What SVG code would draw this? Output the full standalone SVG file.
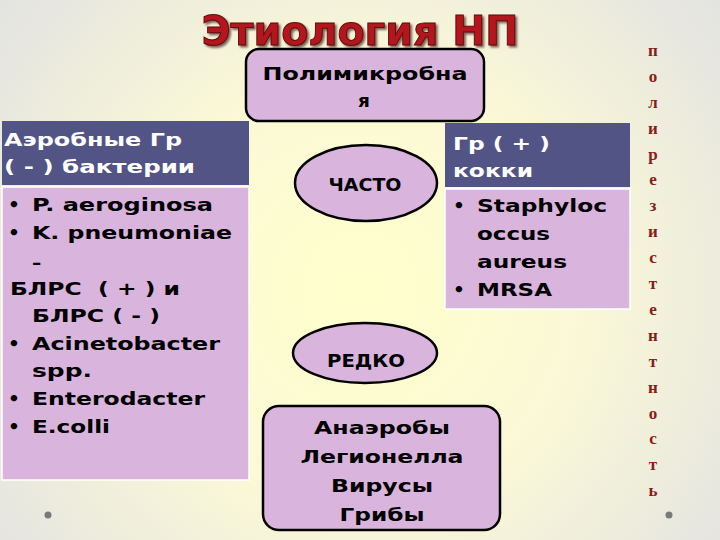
<svg xmlns="http://www.w3.org/2000/svg" width="720" height="540" viewBox="0 0 720 540">
<defs>
<radialGradient id="bg" cx="360" cy="290" r="470" gradientUnits="userSpaceOnUse">
<stop offset="0" stop-color="#FFFFCC"/>
<stop offset="0.45" stop-color="#FBF9D6"/>
<stop offset="1" stop-color="#E2E2E2"/>
</radialGradient>
<filter id="shadow" x="-5%" y="-20%" width="115%" height="150%">
<feDropShadow dx="2" dy="2" stdDeviation="0.8" flood-color="#2a0505" flood-opacity="0.6"/>
</filter>
<style>
.t{font-family:"DejaVu Sans","Noto Sans",sans-serif;font-weight:bold}
.hd{fill:#525485}
.bd{fill:#D9B4DC;stroke:#FFFFFF;stroke-width:1.5}
.shape{fill:#D9B4DC;stroke:#000;stroke-width:2.5}
.wt{fill:#FFFFFF;font-size:18.5px}
.bk{fill:#000000;font-size:18.5px}
.sm{fill:#000000;font-size:17px}
.vt{font-family:"Liberation Serif","DejaVu Serif",serif;font-weight:bold;font-size:17px;fill:#8B1A1A;text-anchor:middle}
.dot{fill:#7A7A7A}
</style>
</defs>
<rect x="0" y="0" width="720" height="540" fill="url(#bg)"/>

<g id="title">
<text class="t" x="360" y="45" font-size="41" fill="#B3161C" stroke="#5E0A0A" stroke-width="1" text-anchor="middle" textLength="317" lengthAdjust="spacingAndGlyphs" filter="url(#shadow)">Этиология НП</text>
</g>

<g id="polymicrobial">
<rect class="shape" x="246" y="49" width="238" height="72" rx="13"/>
<text class="t bk" x="365" y="80" text-anchor="middle" textLength="205" lengthAdjust="spacingAndGlyphs">Полимикробна</text>
<text class="t bk" x="364" y="107" text-anchor="middle">я</text>
</g>

<g id="aerobic">
<rect class="hd" x="2" y="121" width="247" height="64"/>
<text class="t wt" x="4" y="146" textLength="178" lengthAdjust="spacingAndGlyphs">Аэробные Гр</text>
<text class="t wt" x="4" y="173" textLength="191" lengthAdjust="spacingAndGlyphs">( - ) бактерии</text>
<rect class="bd" x="2" y="187" width="247" height="293"/>
<g class="t bk">
<text x="8" y="211">•</text><text x="32" y="211" textLength="181" lengthAdjust="spacingAndGlyphs">P. aeroginosa</text>
<text x="8" y="239">•</text><text x="32" y="239" textLength="200" lengthAdjust="spacingAndGlyphs">K. pneumoniae</text>
<text x="32" y="269">–</text>
<text x="10" y="295" textLength="170" lengthAdjust="spacingAndGlyphs" xml:space="preserve">БЛРС  ( + ) и</text>
<text x="32" y="322" textLength="128" lengthAdjust="spacingAndGlyphs">БЛРС ( - )</text>
<text x="8" y="350">•</text><text x="32" y="350" textLength="188" lengthAdjust="spacingAndGlyphs">Acinetobacter</text>
<text x="32" y="377" textLength="60" lengthAdjust="spacingAndGlyphs">spp.</text>
<text x="8" y="405">•</text><text x="32" y="405" textLength="173" lengthAdjust="spacingAndGlyphs">Enterodacter</text>
<text x="8" y="433">•</text><text x="32" y="433" textLength="78" lengthAdjust="spacingAndGlyphs">E.colli</text>
</g>
</g>

<g id="cocci">
<rect class="hd" x="445" y="123" width="185" height="64"/>
<text class="t wt" x="453" y="150" textLength="97" lengthAdjust="spacingAndGlyphs">Гр ( + )</text>
<text class="t wt" x="453" y="177" textLength="80" lengthAdjust="spacingAndGlyphs">кокки</text>
<rect class="bd" x="445" y="189" width="185" height="120"/>
<g class="t bk">
<text x="453" y="212">•</text><text x="477" y="212" textLength="130" lengthAdjust="spacingAndGlyphs">Staphyloc</text>
<text x="477" y="240" textLength="73" lengthAdjust="spacingAndGlyphs">occus</text>
<text x="477" y="268" textLength="90" lengthAdjust="spacingAndGlyphs">aureus</text>
<text x="453" y="296">•</text><text x="477" y="296" textLength="75" lengthAdjust="spacingAndGlyphs">MRSA</text>
</g>
</g>

<g id="often">
<ellipse class="shape" cx="366" cy="183" rx="71" ry="38"/>
<text class="t sm" x="365" y="191" text-anchor="middle" textLength="73" lengthAdjust="spacingAndGlyphs">ЧАСТО</text>
</g>

<g id="rarely">
<ellipse class="shape" cx="365" cy="353" rx="72" ry="30"/>
<text class="t sm" x="366" y="367" text-anchor="middle" textLength="78" lengthAdjust="spacingAndGlyphs">РЕДКО</text>
</g>

<g id="anaerobes">
<rect class="shape" x="263" y="406" width="237" height="124" rx="16"/>
<g class="t bk" text-anchor="middle">
<text x="382" y="434" textLength="136" lengthAdjust="spacingAndGlyphs">Анаэробы</text>
<text x="382" y="463" textLength="163" lengthAdjust="spacingAndGlyphs">Легионелла</text>
<text x="382" y="492" textLength="102" lengthAdjust="spacingAndGlyphs">Вирусы</text>
<text x="382" y="521" textLength="85" lengthAdjust="spacingAndGlyphs">Грибы</text>
</g>
</g>

<g id="vertical-label">
<text class="vt" x="653" y="56">п</text>
<text class="vt" x="653" y="82">о</text>
<text class="vt" x="653" y="108">л</text>
<text class="vt" x="653" y="134">и</text>
<text class="vt" x="653" y="160">р</text>
<text class="vt" x="653" y="185">е</text>
<text class="vt" x="653" y="211">з</text>
<text class="vt" x="653" y="237">и</text>
<text class="vt" x="653" y="263">с</text>
<text class="vt" x="653" y="289">т</text>
<text class="vt" x="653" y="315">е</text>
<text class="vt" x="653" y="341">н</text>
<text class="vt" x="653" y="367">т</text>
<text class="vt" x="653" y="393">н</text>
<text class="vt" x="653" y="419">о</text>
<text class="vt" x="653" y="444">с</text>
<text class="vt" x="653" y="470">т</text>
<text class="vt" x="653" y="496">ь</text>
</g>

<g id="connectors"/>

<circle class="dot" cx="48" cy="515" r="3.5"/>
<circle class="dot" cx="669" cy="515" r="3.5"/>
</svg>
